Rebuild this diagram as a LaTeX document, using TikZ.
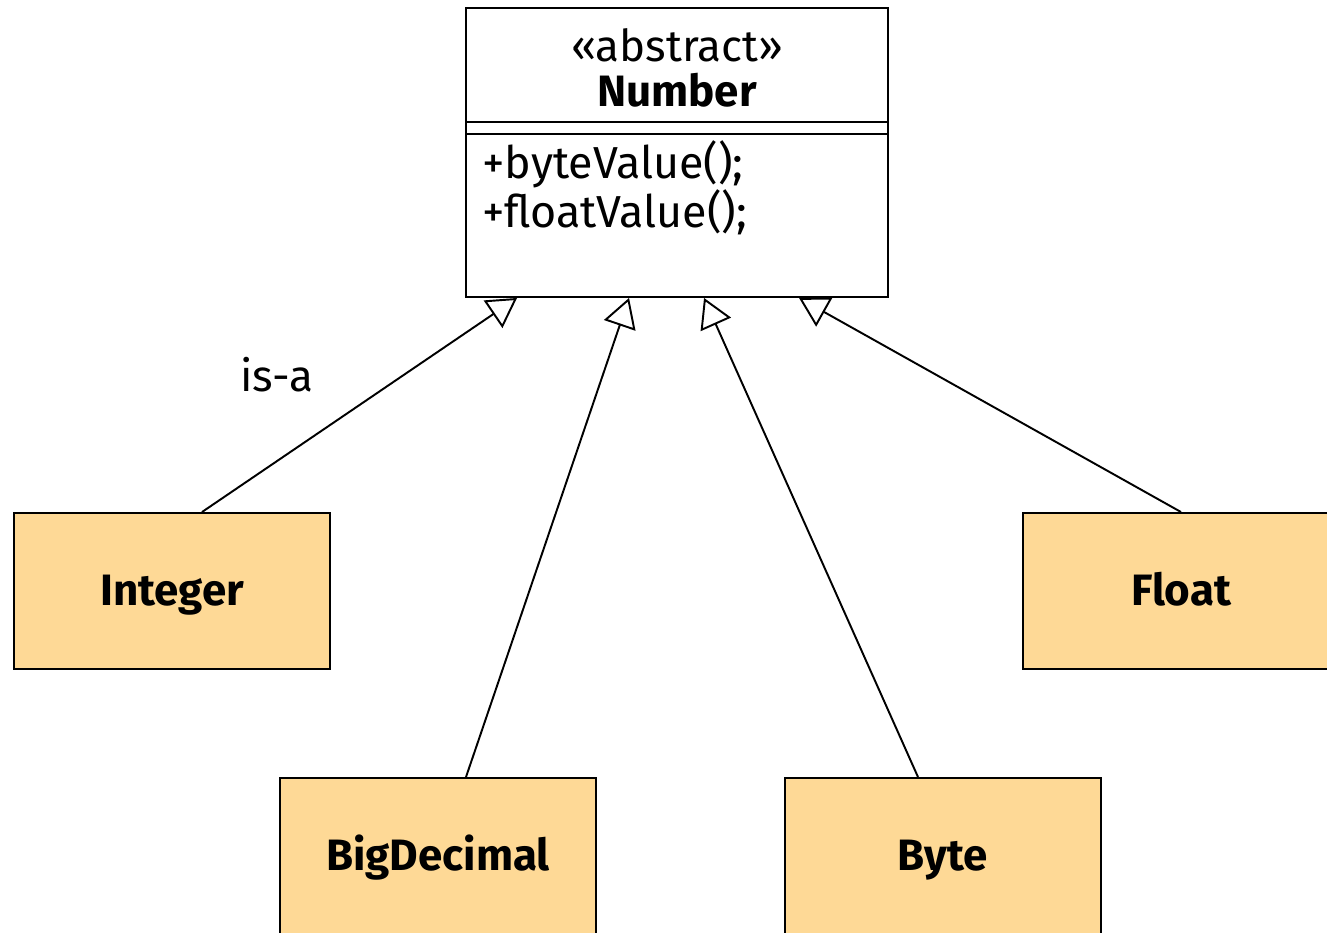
\documentclass[tikz,border=0pt]{standalone}
\usepackage{fontspec}
\setmainfont{Fira Sans}
\usetikzlibrary{calc,arrows.meta}
\definecolor{classOrange}{RGB}{254, 217, 150}

\begin{document}
\begin{tikzpicture}[
        classbox/.style={draw, line width=1.1pt, fill=classOrange, minimum width=6.32cm, minimum height=3.12cm, text height=17pt, text depth=0pt, font=\fontsize{25}{30}\selectfont\bfseries},
        isa/.style={-{Triangle[open, length=0.58cm, width=0.66cm]}, line width=1.1pt}
    ]
        \useasboundingbox (0,0) rectangle (26.54,-18.66);

        % the abstract parent class
        \node[draw, line width=1.1pt, fill=white, minimum width=8.44cm, minimum height=5.78cm] (number) at (13.54,-3.05) {};
        \node[inner sep=0, font=\fontsize{25}{30}\selectfont] (stereo) at (13.54,-0.9) {«abstract»};
        \node[inner sep=0, font=\fontsize{25}{30}\selectfont\bfseries] (numname) at (13.54,-1.8) {Number};
        \draw[line width=1.1pt] ($(number.north west)+(0,-2.30)$) -- ($(number.north east)+(0,-2.30)$);
        \draw[line width=1.1pt] ($(number.north west)+(0,-2.54)$) -- ($(number.north east)+(0,-2.54)$);
        \node[inner sep=0, anchor=west, align=left, font=\fontsize{25.5}{28}\selectfont] (methods) at (9.64,-3.76) {+byteValue();\\+floatValue();};

        % subclasses
        \node[classbox] (integer) at (3.44,-11.82) {Integer};
        \node[classbox] (float) at (23.62,-11.82) {Float};
        \node[classbox] (bigdecimal) at (8.76,-17.12) {BigDecimal};
        \node[classbox] (byte) at (18.86,-17.12) {Byte};

        \coordinate (hookA) at ($(number.south west)+(1.04,0)$);
        \coordinate (hookB) at ($(number.south west)+(3.28,0)$);
        \coordinate (hookC) at ($(number.south west)+(4.78,0)$);
        \coordinate (hookD) at ($(number.south west)+(6.68,0)$);

        \draw[isa] ($(integer.north)+(0.6,0)$) -- (hookA);
        \draw[isa] ($(bigdecimal.north)+(0.56,0)$) -- (hookB);
        \draw[isa] ($(byte.north)+(-0.5,0)$) -- (hookC);
        \draw[isa] (float.north) -- (hookD);

        \node[font=\fontsize{25}{30}\selectfont] (isalabel) at (5.54,-7.5) {is-a};
    \end{tikzpicture}
\end{document}
